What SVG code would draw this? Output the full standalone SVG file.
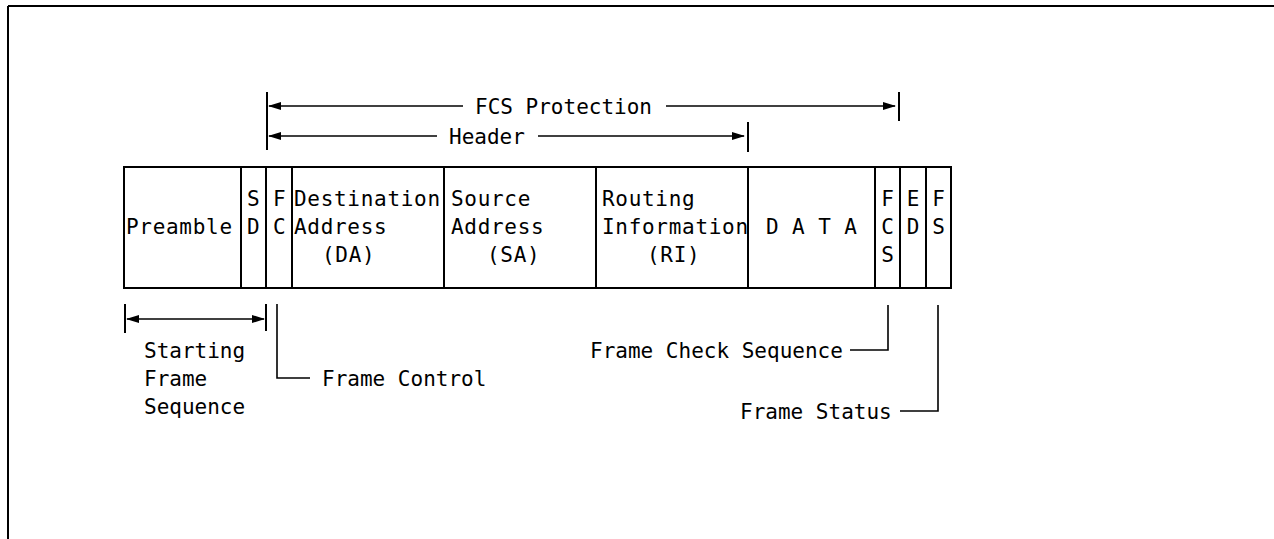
<svg xmlns="http://www.w3.org/2000/svg" width="1274" height="539" viewBox="0 0 1274 539">
<style>
text{font-family:"DejaVu Sans Mono","Liberation Mono",monospace;font-size:21px;fill:#000}
.b{letter-spacing:0.7px}
.l{letter-spacing:0px}
.box{fill:none;stroke:#000;stroke-width:2}
.ln{fill:none;stroke:#000;stroke-width:1.6}
.bar{stroke:#000;stroke-width:2}
</style>
<defs>
<marker id="ah" markerWidth="13" markerHeight="9" refX="12" refY="4.5" orient="auto-start-reverse" markerUnits="userSpaceOnUse">
<path d="M0,0.5 L13,4.5 L0,8.5 Z" fill="#000"/>
</marker>
</defs>
<rect width="1274" height="539" fill="#fff"/>
<g id="page-border">
<line x1="8" y1="6" x2="1274" y2="6" class="bar"/>
<line x1="8" y1="6" x2="8" y2="539" class="bar"/>
</g>
<g id="frame">
<rect x="124" y="167" width="827" height="121" class="box"/>
<g id="preamble"><text class="b" x="126" y="234">Preamble</text></g>
<g id="sd"><line x1="241" y1="167" x2="241" y2="288" class="box"/><text x="247" y="206">S</text><text x="247" y="234">D</text></g>
<g id="fc"><line x1="266" y1="167" x2="266" y2="288" class="box"/><text x="273" y="206">F</text><text x="273" y="234">C</text></g>
<g id="da"><line x1="292" y1="167" x2="292" y2="288" class="box"/><text class="b" x="294" y="206">Destination</text><text class="b" x="294" y="234">Address</text><text class="b" x="322" y="262">(DA)</text></g>
<g id="sa"><line x1="444" y1="167" x2="444" y2="288" class="box"/><text class="b" x="451" y="206">Source</text><text class="b" x="451" y="234">Address</text><text class="b" x="487" y="262">(SA)</text></g>
<g id="ri"><line x1="596" y1="167" x2="596" y2="288" class="box"/><text class="b" x="602" y="206">Routing</text><text class="b" x="602" y="234">Information</text><text class="b" x="647" y="262">(RI)</text></g>
<g id="data"><line x1="748" y1="167" x2="748" y2="288" class="box"/><text x="766" y="234" style="letter-spacing:0.4px">D A T A</text></g>
<g id="fcs"><line x1="875" y1="167" x2="875" y2="288" class="box"/><text x="881.2" y="206">F</text><text x="881.2" y="234">C</text><text x="881.2" y="262">S</text></g>
<g id="ed"><line x1="900" y1="167" x2="900" y2="288" class="box"/><text x="906.7" y="206">E</text><text x="906.7" y="234">D</text></g>
<g id="fs"><line x1="926" y1="167" x2="926" y2="288" class="box"/><text x="932.2" y="206">F</text><text x="932.2" y="234">S</text></g>
</g>
<g id="connectors">
<line x1="267" y1="92" x2="267" y2="150" class="bar"/>
<line x1="899" y1="92" x2="899" y2="121" class="bar"/>
<line x1="748" y1="122" x2="748" y2="152" class="bar"/>
<line x1="269" y1="106" x2="463" y2="106" class="ln" marker-start="url(#ah)"/>
<line x1="666" y1="106" x2="895" y2="106" class="ln" marker-end="url(#ah)"/>
<line x1="269" y1="136" x2="437" y2="136" class="ln" marker-start="url(#ah)"/>
<line x1="538" y1="136" x2="744" y2="136" class="ln" marker-end="url(#ah)"/>
<line x1="125" y1="304" x2="125" y2="333" class="bar"/>
<line x1="266" y1="304" x2="266" y2="331" class="bar"/>
<line x1="127" y1="319" x2="264" y2="319" class="ln" marker-start="url(#ah)" marker-end="url(#ah)"/>
<polyline points="277,304 277,378 310,378" class="ln"/>
<polyline points="888,305 888,350 850,350" class="ln"/>
<polyline points="938,305 938,411 900,411" class="ln"/>
</g>
<g id="labels">
<text x="475" y="114" class="l">FCS Protection</text>
<text x="449" y="144" class="l">Header</text>
<text x="144" y="358" class="l">Starting</text>
<text x="144" y="386" class="l">Frame</text>
<text x="144" y="414" class="l">Sequence</text>
<text x="322" y="386" class="l">Frame Control</text>
<text x="590" y="358" class="l">Frame Check Sequence</text>
<text x="740" y="419" class="l">Frame Status</text>
</g>
</svg>
